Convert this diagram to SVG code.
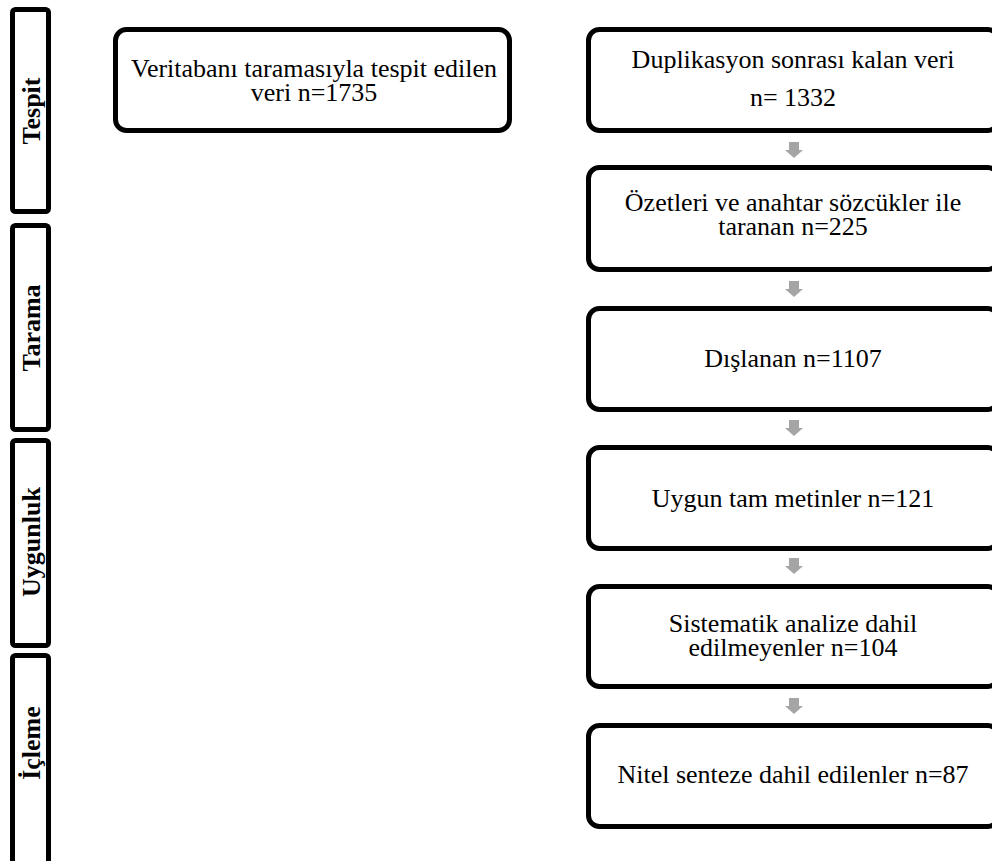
<svg xmlns="http://www.w3.org/2000/svg" width="992" height="861" viewBox="0 0 992 861">
<defs>
<style>
.bar{fill:#fff;stroke:#000;stroke-width:5}
.box{fill:#fff;stroke:#000;stroke-width:5}
.lbl{font-family:"Liberation Serif","Times New Roman",serif;font-size:26px;font-weight:bold;fill:#000;text-anchor:middle}
.t{font-family:"Liberation Serif","Times New Roman",serif;font-size:26px;fill:#000;text-anchor:middle}
.arr{fill:#a5a5a5}
</style>
<path id="ar" d="M-5,0 H5 V8 H9 L0,16 L-9,8 H-5 Z"/>
</defs>
<rect width="992" height="861" fill="#fff"/>
<g id="phase-tespit">
<rect class="bar" x="12.5" y="9.5" width="36" height="202" rx="3"/>
<text class="lbl" transform="translate(40,111) rotate(-90)">Tespit</text>
</g>
<g id="phase-tarama">
<rect class="bar" x="12.5" y="225.5" width="36" height="204" rx="3"/>
<text class="lbl" transform="translate(40,328) rotate(-90)">Tarama</text>
</g>
<g id="phase-uygunluk">
<rect class="bar" x="12.5" y="440.5" width="36" height="205" rx="3"/>
<text class="lbl" transform="translate(40,542) rotate(-90)">Uygunluk</text>
</g>
<g id="phase-icleme">
<rect class="bar" x="12.5" y="655.5" width="36" height="220" rx="3"/>
<text class="lbl" transform="translate(40,743) rotate(-90)">İçleme</text>
</g>
<g id="n-veritabani">
<rect class="box" x="115.5" y="29.5" width="394" height="101" rx="11"/>
<text class="t" x="314" y="77">Veritabanı taramasıyla tespit edilen</text>
<text class="t" x="314" y="101">veri n=1735</text>
</g>
<g id="n-duplikasyon">
<rect class="box" x="588.5" y="29.5" width="410" height="101" rx="11"/>
<text class="t" x="793" y="68">Duplikasyon sonrası kalan veri</text>
<text class="t" x="793" y="106">n= 1332</text>
</g>
<g id="n-ozetleri">
<rect class="box" x="588.5" y="167.5" width="410" height="102" rx="11"/>
<text class="t" x="793" y="211">Özetleri ve anahtar sözcükler ile</text>
<text class="t" x="793" y="235">taranan n=225</text>
</g>
<g id="n-dislanan">
<rect class="box" x="588.5" y="308.5" width="410" height="101" rx="11"/>
<text class="t" x="793" y="367">Dışlanan n=1107</text>
</g>
<g id="n-uygun">
<rect class="box" x="588.5" y="447.5" width="410" height="101" rx="11"/>
<text class="t" x="793" y="507">Uygun tam metinler n=121</text>
</g>
<g id="n-sistematik">
<rect class="box" x="588.5" y="586.5" width="410" height="100" rx="11"/>
<text class="t" x="793" y="632">Sistematik analize dahil</text>
<text class="t" x="793" y="656">edilmeyenler n=104</text>
</g>
<g id="n-nitel">
<rect class="box" x="588.5" y="725.5" width="410" height="101" rx="11"/>
<text class="t" x="793" y="783">Nitel senteze dahil edilenler n=87</text>
</g>
<g id="connectors">
<use href="#ar" class="arr" x="794" y="142"/>
<use href="#ar" class="arr" x="794" y="281"/>
<use href="#ar" class="arr" x="794" y="420"/>
<use href="#ar" class="arr" x="794" y="558"/>
<use href="#ar" class="arr" x="794" y="698"/>
</g>
</svg>
